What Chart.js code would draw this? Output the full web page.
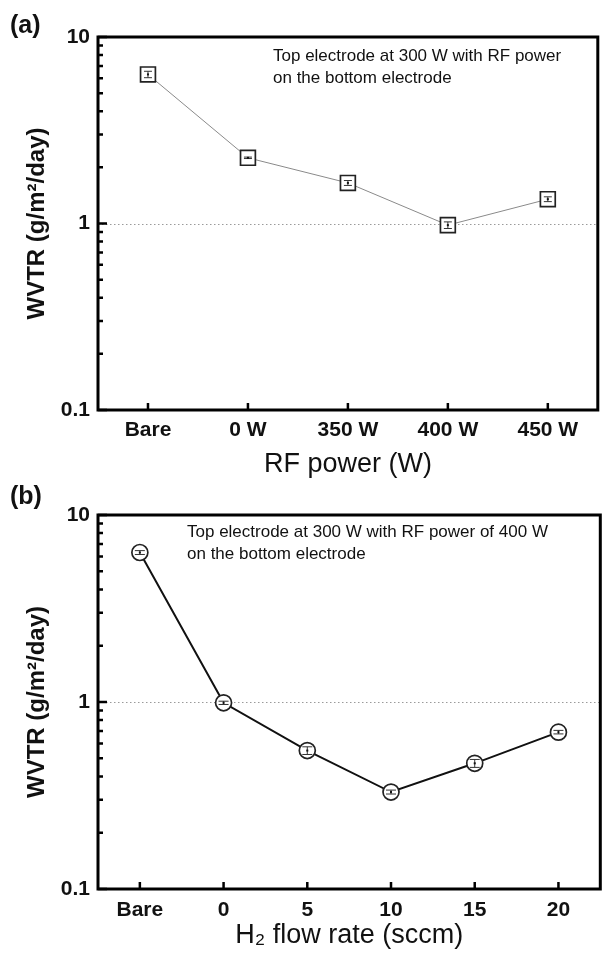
<!DOCTYPE html>
<html>
<head>
<meta charset="utf-8">
<script src="https://cdn.jsdelivr.net/npm/chart.js@4.4.0/dist/chart.umd.min.js"></script>
<style>
  html, body { margin: 0; padding: 0; background: #fff; }
  #wrap { position: relative; width: 610px; height: 963px; }
  canvas { position: absolute; left: 0; }
  #chartA { top: 0; }
  #chartB { top: 481px; }
</style>
</head>
<body>
<div id="wrap">
  <canvas id="chartA" width="610" height="481"></canvas>
  <canvas id="chartB" width="610" height="482"></canvas>
</div>
<script>
const FONT = '"Liberation Sans", Arial, sans-serif';

// (a) RF power applied to the bottom electrode
const powerLabels = ['Bare', '0 W', '350 W', '400 W', '450 W'];
const powerWvtr = [6.3, 2.25, 1.65, 0.98, 1.35];
const powerErr = [0.25, 0.02, 0.05, 0.04, 0.04];

// (b) H2 flow rate at 400 W bottom power
const flowLabels = ['Bare', '0', '5', '10', '15', '20'];
const flowWvtr = [6.3, 0.99, 0.55, 0.33, 0.47, 0.69];
const flowErr = [0.15, 0.02, 0.026, 0.008, 0.023, 0.015];

const yTicks = [0.1, 1, 10];

// dotted line at 1, error bars, box frame with inward ticks, notes
const framePlugin = {
  id: 'frame',
  beforeDatasetsDraw(chart) {
    const {ctx, chartArea: a, scales: {y}} = chart;
    const y1 = Math.round(y.getPixelForValue(1)) + 0.5;
    ctx.save();
    ctx.strokeStyle = '#9a9a9a';
    ctx.lineWidth = 1;
    ctx.setLineDash([1.5, 2.5]);
    ctx.beginPath();
    ctx.moveTo(a.left, y1);
    ctx.lineTo(a.right, y1);
    ctx.stroke();
    ctx.restore();
  },
  afterDatasetsDraw(chart, args, opts) {
    const {ctx, chartArea: a, scales: {x, y}} = chart;
    const ds = chart.data.datasets[0];
    ctx.save();

    // error bars inside the markers
    ctx.strokeStyle = opts.errColor;
    ctx.lineWidth = 1;
    ds.data.forEach((v, i) => {
      const e = opts.err[i];
      const px = x.getPixelForValue(i);
      const hi = y.getPixelForValue(v + e);
      const lo = y.getPixelForValue(v - e);
      ctx.beginPath();
      ctx.moveTo(px, hi); ctx.lineTo(px, lo);
      ctx.moveTo(px - opts.cap, hi); ctx.lineTo(px + opts.cap, hi);
      ctx.moveTo(px - opts.cap, lo); ctx.lineTo(px + opts.cap, lo);
      ctx.stroke();
      ctx.fillStyle = '#111';
      ctx.fillRect(px - 1, y.getPixelForValue(v) - 1, 2, 2);
    });

    // inward ticks on the left axis, majors longer
    ctx.strokeStyle = '#000';
    ctx.lineWidth = 2.5;
    ctx.beginPath();
    for (let d = 0.1; d < 10; d *= 10) {
      for (let m = 1; m <= 10; m++) {
        const py = y.getPixelForValue(d * m);
        const len = (m === 1 || m === 10) ? 9 : 5;
        ctx.moveTo(a.left, py);
        ctx.lineTo(a.left + len, py);
      }
    }
    // inward ticks on the bottom axis
    chart.data.labels.forEach((l, i) => {
      const px = x.getPixelForValue(i);
      ctx.moveTo(px, a.bottom);
      ctx.lineTo(px, a.bottom - 7);
    });
    ctx.stroke();

    ctx.lineWidth = 3;
    ctx.strokeRect(a.left, a.top, a.right - a.left, a.bottom - a.top);

    // panel tag and note text
    ctx.fillStyle = '#111';
    ctx.textBaseline = 'middle';
    ctx.font = 'bold 25px ' + FONT;
    ctx.fillText(opts.tag, 10, opts.tagY);
    ctx.font = '17px ' + FONT;
    opts.note.forEach((t, i) => ctx.fillText(t, opts.noteX, opts.noteY + i * 22));
    ctx.restore();
  }
};

function makeChart(id, labels, values, cfg) {
  return new Chart(document.getElementById(id), {
    type: 'line',
    data: {
      labels: labels,
      datasets: [{
        data: values,
        borderColor: cfg.lineColor,
        borderWidth: cfg.lineWidth,
        pointStyle: cfg.pointStyle,
        pointRadius: cfg.pointRadius,
        pointBorderWidth: 1.7,
        pointBorderColor: '#222',
        pointBackgroundColor: '#fff',
        tension: 0
      }]
    },
    options: {
      responsive: false,
      animation: false,
      devicePixelRatio: 1,
      layout: { padding: { top: cfg.top, right: 2, left: 0, bottom: 0 } },
      plugins: {
        legend: { display: false },
        tooltip: { enabled: false },
        frame: {
          err: cfg.err, cap: cfg.cap, errColor: '#333',
          tag: cfg.tag, tagY: cfg.tagY,
          note: cfg.note, noteX: cfg.noteX, noteY: cfg.noteY
        }
      },
      scales: {
        x: {
          offset: true,
          afterFit: s => { s.height = cfg.xHeight; },
          grid: { display: false, drawTicks: false },
          border: { display: false },
          ticks: { color: '#111', font: { family: FONT, size: 21, weight: 'bold' }, padding: cfg.tickPad },
          title: {
            display: true, text: cfg.xTitle, color: '#111',
            font: { family: FONT, size: 27 }, padding: { top: 0, bottom: cfg.titlePad }
          }
        },
        y: {
          type: 'logarithmic',
          min: 0.1,
          max: 10,
          afterBuildTicks: s => { s.ticks = yTicks.map(v => ({ value: v })); },
          afterFit: s => { s.width = 98; },
          grid: { display: false, drawTicks: false },
          border: { display: false },
          ticks: {
            color: '#111', font: { family: FONT, size: 21, weight: 'bold' }, padding: 8,
            callback: v => String(v)
          },
          title: {
            display: true, text: 'WVTR (g/m²/day)', color: '#111',
            font: { family: FONT, size: 24, weight: 'bold' }, padding: { top: 23, bottom: 0 }
          }
        }
      }
    },
    plugins: [framePlugin]
  });
}

makeChart('chartA', powerLabels, powerWvtr, {
  lineColor: '#8a8a8a', lineWidth: 1, pointStyle: 'rect', pointRadius: 10.5,
  err: powerErr, cap: 4,
  top: 37, xHeight: 71, tickPad: 8, titlePad: 0,
  xTitle: 'RF power (W)',
  tag: '(a)', tagY: 26,
  note: ['Top electrode at 300 W with RF power', 'on the bottom electrode'],
  noteX: 273, noteY: 56
});

makeChart('chartB', flowLabels, flowWvtr, {
  lineColor: '#111', lineWidth: 2, pointStyle: 'circle', pointRadius: 8,
  err: flowErr, cap: 5,
  top: 34, xHeight: 74, tickPad: 9, titlePad: 11,
  xTitle: 'H₂ flow rate (sccm)',
  tag: '(b)', tagY: 16,
  note: ['Top electrode at 300 W with RF power of 400 W', 'on the bottom electrode'],
  noteX: 187, noteY: 51
});
</script>
</body>
</html>
